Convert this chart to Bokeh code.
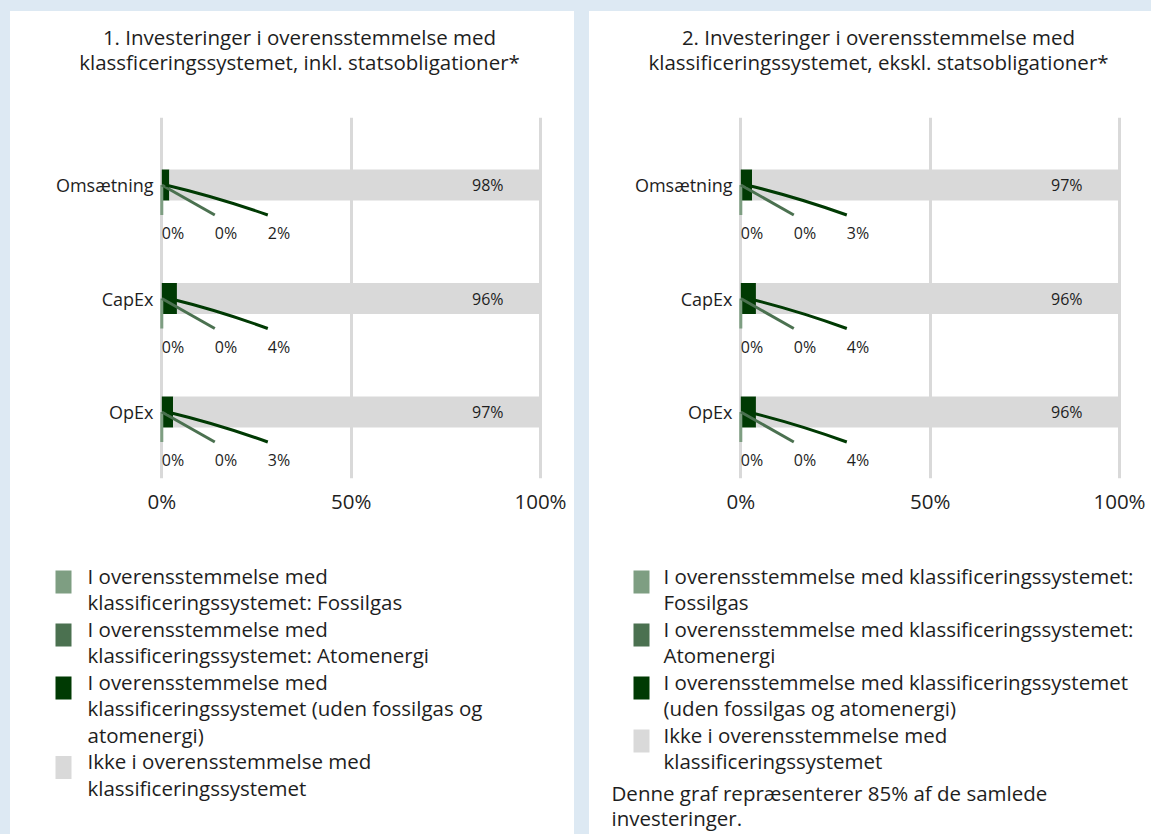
import textwrap
import numpy as np
from bokeh.plotting import figure
from bokeh.layouts import row, column
from bokeh.models import Range1d, GlobalInlineStyleSheet
from bokeh.embed import file_html
from bokeh.resources import INLINE
from bokeh.core.properties import value

# ---------------- data ----------------
categories = ["Omsætning", "CapEx", "OpEx"]
series_names = [
    "I overensstemmelse med klassificeringssystemet: Fossilgas",
    "I overensstemmelse med klassificeringssystemet: Atomenergi",
    "I overensstemmelse med klassificeringssystemet (uden fossilgas og atomenergi)",
    "Ikke i overensstemmelse med klassificeringssystemet",
]
colors = ["#7e9e82", "#4b7150", "#003a03", "#d9d9d9"]

incl_fossilgas = [0, 0, 0]
incl_atomenergi = [0, 0, 0]
incl_aligned = [2, 4, 3]
incl_not_aligned = [98, 96, 97]

excl_fossilgas = [0, 0, 0]
excl_atomenergi = [0, 0, 0]
excl_aligned = [3, 4, 4]
excl_not_aligned = [97, 96, 96]

x_ticks = [0, 50, 100]
x_tick_labels = ["0%", "50%", "100%"]

title_1 = ["1. Investeringer i overensstemmelse med",
           "klassficeringssystemet, inkl. statsobligationer*"]
title_2 = ["2. Investeringer i overensstemmelse med",
           "klassificeringssystemet, ekskl. statsobligationer*"]
footnote = "Denne graf repræsenterer 85% af de samlede investeringer."

# ---------------- style ----------------
FONT = "Open Sans"
BIG = "20.5px"
TXT = "#1e1e1e"
BG = "#dde9f3"
PX = 3.787      # px per percentage point
UNIT = 113.5    # px per category step
BAR_H = 31 / UNIT
END_DY = 30 / UNIT
LAB_DY = 48 / UNIT


def pixel_fig(w, h):
    f = figure(width=w, height=h, x_range=Range1d(0, w), y_range=Range1d(h, 0),
               output_backend="svg", toolbar_location=None, tools="",
               x_axis_location=None, y_axis_location=None, min_border=0,
               outline_line_color=None, border_fill_color="white",
               background_fill_color="white", frame_align=False)
    f.grid.grid_line_color = None
    return f


def make_title(w, lines):
    f = pixel_fig(w, 100)
    f.text(x=[289] * len(lines), y=[25 + 25 * i for i in range(len(lines))], text=lines,
           text_font=value(FONT), text_font_size=BIG, text_color=TXT,
           text_align="center", text_baseline="middle")
    return f


def make_chart(width, fossil, atom, aligned, notal):
    frame_left, frame_right = 145, 536
    zero_px = 151.3
    x_start = -(zero_px - frame_left) / PX
    x_end = x_start + (frame_right - frame_left) / PX
    top, fh, h = 6, 361, 440
    n = len(categories)
    y_end = (n - 1) + 67.5 / UNIT
    y_start = y_end - fh / UNIT
    p = figure(width=width, height=h, x_range=Range1d(x_start, x_end),
               y_range=Range1d(y_start, y_end), output_backend="svg",
               toolbar_location=None, tools="",
               min_border_left=frame_left, min_border_right=width - frame_right,
               min_border_top=top, min_border_bottom=h - top - fh,
               outline_line_color=None, border_fill_color="white",
               background_fill_color="white", frame_align=False)
    yv = np.array([n - 1 - i for i in range(n)], dtype=float)
    vals = [np.array(v, dtype=float) for v in (fossil, atom, aligned, notal)]
    lefts = [np.zeros(n)]
    for v in vals[:-1]:
        lefts.append(lefts[-1] + v)
    for i in range(4):
        p.hbar(y=yv, left=lefts[i], right=lefts[i] + vals[i], height=BAR_H,
               fill_color=colors[i], line_color=None)
    # not-aligned value labels
    p.text(x=lefts[3] + vals[3] - 37 / PX, y=yv, text=[f"{v:.0f}%" for v in vals[3]],
           text_font=value(FONT), text_font_size="16px", text_color=TXT,
           text_align="right", text_baseline="middle")
    # leader lines + labels for the small segments
    ends = [0, 53 / PX, 106 / PX]
    for i in range(3):
        x0 = lefts[i] + vals[i] / 2
        x1 = np.full(n, ends[i])
        y1 = yv - END_DY
        if i == 2:
            p.quadratic(x0=x0, y0=yv, x1=x1, y1=y1, cx=(x0 + x1) / 2, cy=yv - END_DY * 0.4,
                        line_color=colors[i], line_width=3)
        else:
            p.segment(x0=x0, y0=yv, x1=x1, y1=y1, line_color=colors[i], line_width=3)
        p.text(x=x1, y=yv - LAB_DY, text=[f"{v:.0f}%" for v in vals[i]],
               text_font=value(FONT), text_font_size="16px", text_color=TXT,
               text_align="left", text_baseline="middle")
    # axes
    p.xaxis.ticker = x_ticks
    p.xaxis.major_label_overrides = {t: l for t, l in zip(x_ticks, x_tick_labels)}
    p.yaxis.ticker = list(yv)
    p.yaxis.major_label_overrides = {int(y): c for y, c in zip(yv, categories)}
    for ax in (p.xaxis, p.yaxis):
        ax.axis_line_color = None
        ax.major_tick_line_color = None
        ax.minor_tick_line_color = None
        ax.major_tick_out = 0
        ax.major_tick_in = 0
        ax.major_label_text_font = FONT
        ax.major_label_text_color = TXT
    p.xaxis.major_label_text_font_size = BIG
    p.yaxis.major_label_text_font_size = "18px"
    p.xaxis.major_label_standoff = 8
    p.yaxis.major_label_standoff = 2
    p.xgrid.ticker = x_ticks
    p.xgrid.grid_line_color = "#d9d9d9"
    p.xgrid.grid_line_width = 3
    p.ygrid.grid_line_color = None
    return p


def make_legend(w, wrap, sq_x, tx_x, note=None):
    h = 283
    f = pixel_fig(w, h)
    pitch = 26.5
    k = 0
    xs, ys, ts = [], [], []
    sq_top = []
    for name in series_names:
        lines = textwrap.wrap(name, wrap)
        sq_top.append(24 + pitch * k - 5)
        for ln in lines:
            xs.append(tx_x); ys.append(24 + pitch * k); ts.append(ln)
            k += 1
    f.quad(left=[sq_x] * 4, right=[sq_x + 16] * 4, top=sq_top,
           bottom=[t + 23 for t in sq_top], fill_color=colors, line_color=None)
    if note is not None:
        y0 = 24 + pitch * k + 5
        for j, ln in enumerate(textwrap.wrap(note, wrap)):
            xs.append(22); ys.append(y0 + 25 * j); ts.append(ln)
    f.text(x=xs, y=ys, text=ts, text_font=value(FONT), text_font_size=BIG,
           text_color=TXT, text_align="left", text_baseline="middle")
    return f


WHITE = {"background-color": "white"}
left = column(make_title(564, title_1),
              make_chart(564, incl_fossilgas, incl_atomenergi, incl_aligned, incl_not_aligned),
              make_legend(564, 42, 45, 77), styles=WHITE)
right = column(make_title(562, title_2),
               make_chart(562, excl_fossilgas, excl_atomenergi, excl_aligned, excl_not_aligned),
               make_legend(562, 48, 44, 74, footnote), styles=WHITE)
layout = row(left, right, spacing=15, margin=(11, 0, 0, 10))
layout.stylesheets = [GlobalInlineStyleSheet(
    css=f"html, body {{ margin: 0; padding: 0; background-color: {BG}; overflow: hidden; }}")]

open("out.html", "w").write(file_html(layout, INLINE))
